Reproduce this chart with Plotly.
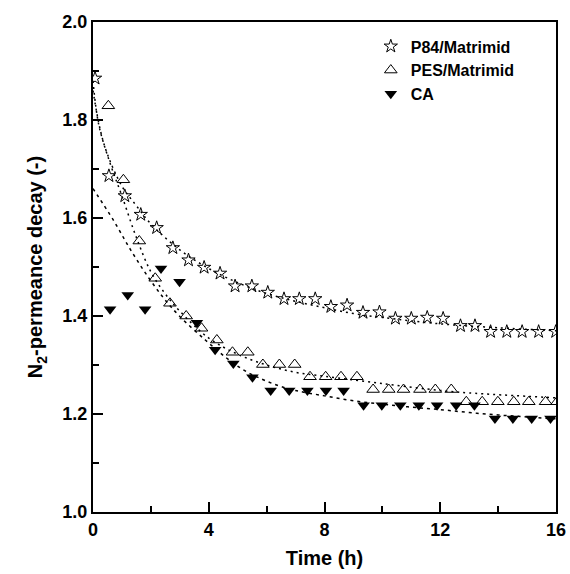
import plotly.graph_objects as go

# ---- data ----
p84_t = [0.07, 0.55, 1.1, 1.65, 2.2, 2.76, 3.3, 3.84, 4.39, 4.91, 5.49, 6.04, 6.6, 7.13, 7.68,
         8.22, 8.78, 9.33, 9.9, 10.45, 11.0, 11.55, 12.1, 12.7, 13.2, 13.74, 14.3, 14.83, 15.4, 15.99]
p84_y = [1.885, 1.686, 1.645, 1.607, 1.58, 1.539, 1.514, 1.499, 1.487, 1.461, 1.461, 1.448, 1.435,
         1.435, 1.435, 1.419, 1.422, 1.407, 1.408, 1.395, 1.395, 1.397, 1.395, 1.38, 1.38, 1.368,
         1.368, 1.368, 1.368, 1.368]

pes_t = [0.53, 1.05, 1.6, 2.15, 2.66, 3.22, 3.75, 4.28, 4.82, 5.35, 5.87, 6.44, 6.97, 7.5, 8.04,
         8.57, 9.12, 9.68, 10.22, 10.73, 11.3, 11.83, 12.38, 12.9, 13.45, 13.99, 14.54, 15.06,
         15.64, 16.04]
pes_y = [1.829, 1.678, 1.553, 1.477, 1.426, 1.40, 1.375, 1.351, 1.326, 1.326, 1.301, 1.301, 1.301,
         1.276, 1.276, 1.276, 1.276, 1.25, 1.25, 1.25, 1.25, 1.25, 1.25, 1.225, 1.225, 1.225,
         1.225, 1.225, 1.225, 1.225]

ca_t = [0.59, 1.2, 1.8, 2.35, 2.99, 3.59, 4.22, 4.85, 5.51, 6.14, 6.78, 7.41, 8.05, 8.66, 9.35,
        9.98, 10.62, 11.26, 11.89, 12.55, 13.18, 13.89, 14.51, 15.16, 15.81]
ca_y = [1.414, 1.443, 1.414, 1.497, 1.47, 1.386, 1.331, 1.303, 1.275, 1.248, 1.248, 1.248, 1.248,
        1.248, 1.218, 1.218, 1.218, 1.218, 1.218, 1.218, 1.218, 1.191, 1.191, 1.191, 1.191]

# fitted curves
p84_fit_t = [0, 0.25, 0.5, 1, 1.5, 2, 3, 4, 5, 6, 7, 8, 9, 10, 12, 14, 16]
p84_fit_y = [1.86, 1.78, 1.73, 1.665, 1.625, 1.588, 1.535, 1.497, 1.468, 1.446, 1.43, 1.417,
             1.405, 1.397, 1.384, 1.376, 1.37]
pes_fit_t = [0, 0.2, 0.6, 1, 1.5, 2, 2.5, 3, 4, 5, 6, 7, 8, 10, 12, 13, 16]
pes_fit_y = [1.88, 1.79, 1.71, 1.645, 1.56, 1.49, 1.445, 1.41, 1.355, 1.322, 1.30, 1.285, 1.277,
             1.262, 1.248, 1.243, 1.233]
ca_fit_t = [0, 0.7, 1.3, 1.9, 2.45, 3, 3.9, 4.6, 5.2, 5.8, 6.4, 7, 8, 9, 10, 11, 12, 13, 14, 15, 16]
ca_fit_y = [1.66, 1.596, 1.535, 1.48, 1.436, 1.399, 1.35, 1.315, 1.29, 1.272, 1.258, 1.248, 1.237,
            1.227, 1.22, 1.214, 1.209, 1.203, 1.198, 1.194, 1.19]

x_ticks = [0, 4, 8, 12, 16]
y_ticks = [1.0, 1.2, 1.4, 1.6, 1.8, 2.0]
y_tick_labels = ["1.0", "1.2", "1.4", "1.6", "1.8", "2.0"]

fig = go.Figure()

line_kw = dict(mode="lines", line_shape="spline", showlegend=False, hoverinfo="skip")
fig.add_trace(go.Scatter(x=p84_fit_t, y=p84_fit_y, line=dict(color="black", width=1.5, dash="2px,4px"), **line_kw))
fig.add_trace(go.Scatter(x=pes_fit_t, y=pes_fit_y, line=dict(color="black", width=1.5, dash="2px,4px"), **line_kw))
fig.add_trace(go.Scatter(x=ca_fit_t, y=ca_fit_y, line=dict(color="black", width=1.5, dash="3px,4px"), **line_kw))

fig.add_trace(go.Scatter(x=p84_t, y=p84_y, mode="markers", name="P84/Matrimid",
                         marker=dict(symbol="star-open", size=10, color="black", line=dict(width=1))))
fig.add_trace(go.Scatter(x=pes_t, y=pes_y, mode="markers", name="PES/Matrimid",
                         marker=dict(symbol="triangle-up-open", size=11, color="black", line=dict(width=1))))
fig.add_trace(go.Scatter(x=ca_t, y=ca_y, mode="markers", name="CA",
                         marker=dict(symbol="triangle-down", size=11, color="black")))

font_family = "Liberation Sans, Arial, sans-serif"
axis_common = dict(
    showline=True, linecolor="black", linewidth=2, mirror=True,
    ticks="inside", tickcolor="black", tickwidth=2, ticklen=10,
    showgrid=False, zeroline=False, automargin=False,
    tickfont=dict(family=font_family, size=18, color="black", weight="bold"),
)

fig.update_xaxes(range=[0, 16], tickvals=x_ticks,
                 minor=dict(dtick=2, ticks="inside", ticklen=6, tickwidth=2, tickcolor="black", showgrid=False),
                 title=dict(text="Time (h)", font=dict(family=font_family, size=20, color="black", weight="bold"), standoff=12),
                 **axis_common)
fig.update_yaxes(range=[1.0, 2.0], tickvals=y_ticks, ticktext=y_tick_labels,
                 minor=dict(dtick=0.1, ticks="inside", ticklen=6, tickwidth=2, tickcolor="black", showgrid=False),
                 title=dict(text="N<sub>2</sub>-permeance decay (-)", font=dict(family=font_family, size=20, color="black", weight="bold"), standoff=14),
                 **axis_common)

fig.update_layout(
    width=570, height=574, autosize=False,
    margin=dict(l=93, r=14, t=22, b=62),
    plot_bgcolor="white", paper_bgcolor="white",
    legend=dict(x=0.6, y=0.985, xanchor="left", yanchor="top", bgcolor="rgba(0,0,0,0)",
                font=dict(family=font_family, size=16, color="black", weight="bold"),
                tracegroupgap=0, itemsizing="trace", itemwidth=30),
)

fig.write_html("out.html",
               config={"displayModeBar": False, "responsive": False},
               post_script="document.body.style.margin='0';document.body.style.overflow='hidden';")
